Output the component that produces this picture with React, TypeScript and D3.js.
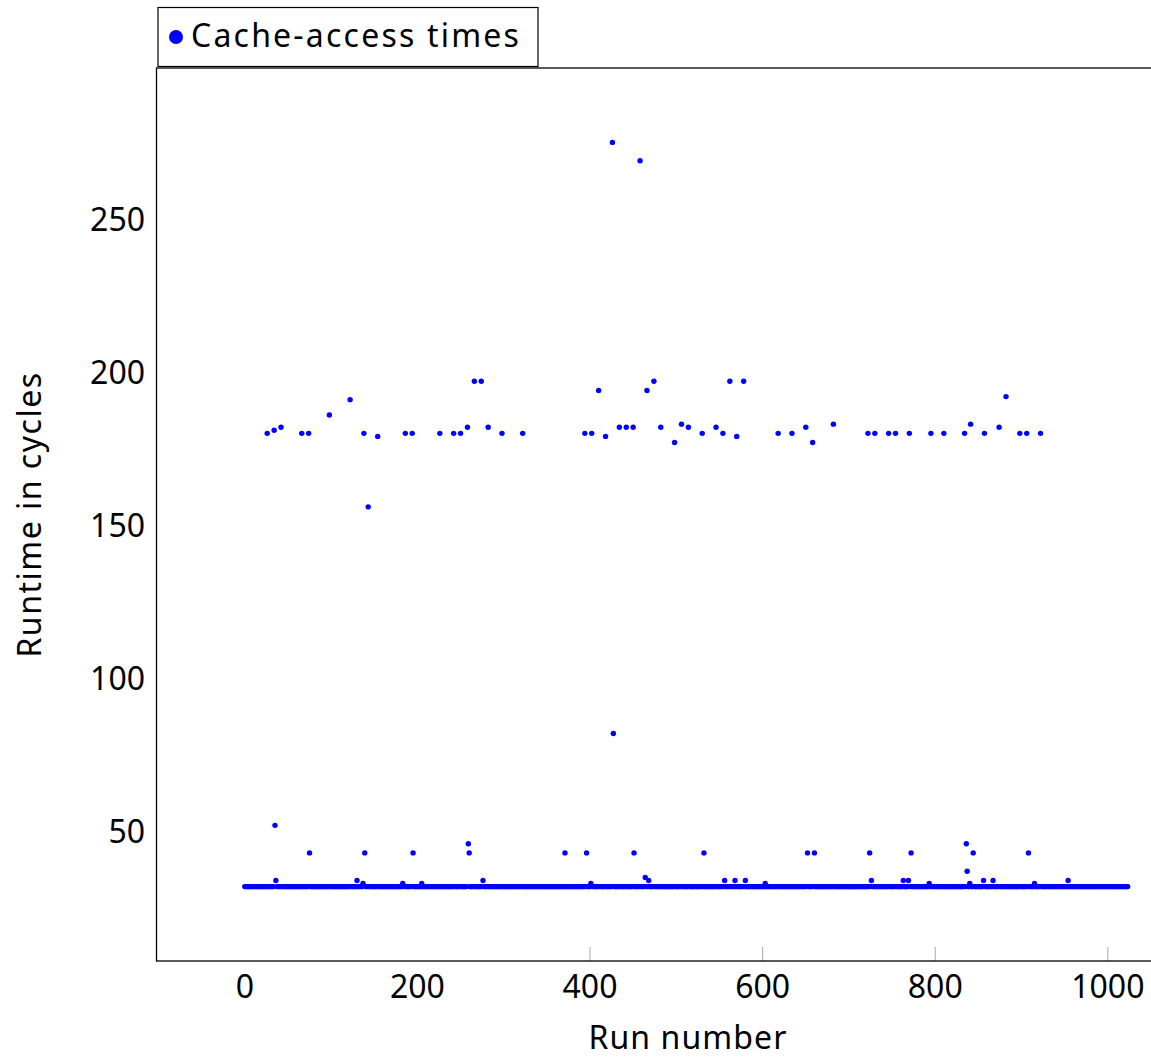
import * as d3 from 'd3';

// run numbers 0..1023, almost all at the baseline value
const runCount = 1024;
const baselineValue = 32;

// runs that stand off the baseline
const outlierRuns = [
  26, 34, 42, 66, 74, 98, 122, 138, 154, 186, 194, 226, 242, 250, 258, 266, 274, 282, 298, 322,
  394, 402, 410, 418, 434, 442, 450, 466, 474, 482, 498, 506, 514, 530, 546, 554, 562, 570, 578,
  618, 634, 650, 658, 682, 722, 730, 746, 754, 770, 795, 810, 834, 841, 857, 874, 882, 898, 906, 922,
  143, 426, 458, 427,
  35, 36, 75, 130, 137, 139, 183, 195, 205, 259, 260, 276, 371, 396, 401, 451, 464, 468, 532,
  556, 568, 580, 603, 652, 660, 724, 726, 763, 769, 772, 793, 836, 837, 840, 844, 856, 867, 908, 915, 954,
];
const outlierValues = [
  180, 181, 182, 180, 180, 186, 191, 180, 179, 180, 180, 180, 180, 180, 182, 197, 197, 182, 180, 180,
  180, 180, 194, 179, 182, 182, 182, 194, 197, 182, 177, 183, 182, 180, 182, 180, 197, 179, 197,
  180, 180, 182, 177, 183, 180, 180, 180, 180, 180, 180, 180, 180, 183, 180, 182, 192, 180, 180, 180,
  156, 275, 269, 82,
  52, 34, 43, 34, 33, 43, 33, 43, 33, 46, 43, 34, 43, 43, 33, 43, 35, 34, 43,
  34, 34, 34, 33, 43, 43, 43, 34, 34, 34, 43, 33, 46, 37, 33, 43, 34, 34, 43, 33, 34,
];

const xTicks = [0, 200, 400, 600, 800, 1000];
const xTickMarks = [400, 600, 800, 1000];
const yTicks = [50, 100, 150, 200, 250];

const seriesName = 'Cache-access times';
const xLabel = 'Run number';
const yLabel = 'Runtime in cycles';

const font = '"Noto Sans", Roboto, sans-serif';

export default function App() {
  const width = 1151;
  const height = 1057;
  const left = 156.5;
  const right = 1216;
  const top = 68;
  const bottom = 961;

  const x = d3.scaleLinear().domain([-102.3, 1125.3]).range([left, right]);
  const y = d3.scaleLinear().domain([7.7, 299.3]).range([bottom, top]);

  const outliers = new Map<number, number>();
  outlierRuns.forEach((r, i) => outliers.set(r, outlierValues[i]));
  const points = d3.range(runCount).map((r) => ({
    run: r,
    value: outliers.has(r) ? (outliers.get(r) as number) : baselineValue,
  }));

  return (
    <svg
      width={width}
      height={height}
      style={{ position: 'absolute', left: 0, top: 0, background: '#fff' }}
      fontFamily={font}
    >
      {/* legend */}
      <rect x={158} y={7.5} width={380} height={59} fill="#fff" stroke="#000" strokeWidth={1.2} />
      <circle cx={176} cy={37} r={7} fill="#0000ff" />
      <text x={191} y={47} fontSize={32} letterSpacing={2.2} fill="#000">
        {seriesName}
      </text>

      {/* tick marks */}
      {xTickMarks.map((t) => (
        <line key={t} x1={x(t)} x2={x(t)} y1={bottom - 14} y2={bottom} stroke="#aaa" strokeWidth={1} />
      ))}

      {/* points */}
      {points.map((p) => (
        <circle key={p.run} cx={x(p.run)} cy={y(p.value)} r={2.7} fill="#0000ff" />
      ))}

      {/* frame */}
      <rect
        x={left}
        y={top}
        width={right - left}
        height={bottom - top}
        fill="none"
        stroke="#000"
        strokeWidth={1.3}
      />

      {/* tick labels */}
      {xTicks.map((t) => (
        <text key={t} x={x(t)} y={998} fontSize={32} textAnchor="middle" fill="#000">
          {t}
        </text>
      ))}
      {yTicks.map((t) => (
        <text key={t} x={145} y={y(t) + 12} fontSize={32} textAnchor="end" fill="#000">
          {t}
        </text>
      ))}

      {/* axis labels */}
      <text x={688} y={1049} fontSize={32} letterSpacing={1.1} textAnchor="middle" fill="#000">
        {xLabel}
      </text>
      <text
        transform={`translate(41,${(top + bottom) / 2}) rotate(-90)`}
        fontSize={32}
        letterSpacing={1.5}
        textAnchor="middle"
        fill="#000"
      >
        {yLabel}
      </text>
    </svg>
  );
}
